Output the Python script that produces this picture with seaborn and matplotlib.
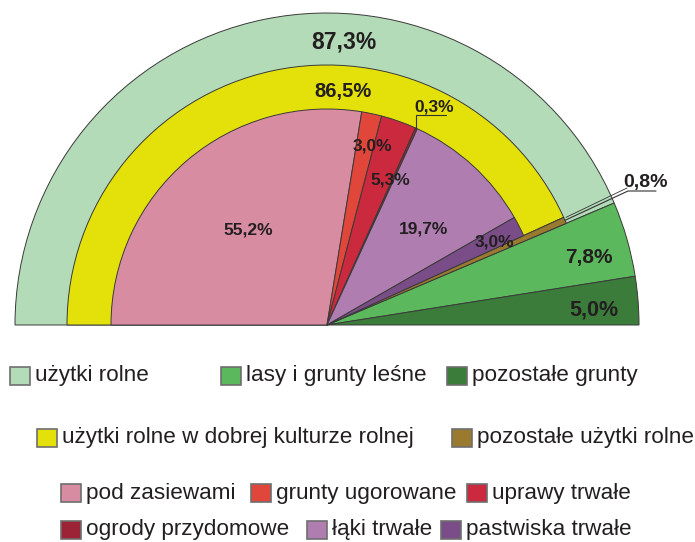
import numpy as np
import matplotlib
matplotlib.use("Agg")
import matplotlib.pyplot as plt
from matplotlib.patches import Rectangle
import seaborn as sns

# dane (% powierzchni)
outer_labels = ["użytki rolne", "lasy i grunty leśne", "pozostałe grunty"]
outer_values = [87.3, 7.8, 5.0]
outer_colors = ["#b3dbb8", "#5cb85c", "#3b7c3b"]

middle_labels = ["użytki rolne w dobrej kulturze rolnej", "pozostałe użytki rolne"]
middle_values = [86.5, 0.8]
middle_colors = ["#e3e00a", "#9a7a2e"]

inner_labels = ["pod zasiewami", "grunty ugorowane", "uprawy trwałe",
                "ogrody przydomowe", "łąki trwałe", "pastwiska trwałe"]
inner_values = [55.2, 3.0, 5.3, 0.3, 19.7, 3.0]
inner_colors = ["#d88ca1", "#e0463a", "#cb2a3e", "#9c2235", "#b07db0", "#7a4d89"]

sns.set_theme(style="white")
plt.rcParams["font.family"] = ["Liberation Sans", "DejaVu Sans"]

W, H = 695, 542
fig = plt.figure(figsize=(W / 100, H / 100), dpi=100)
ax = fig.add_axes([0, 0, 1, 1])

total = sum(outer_values)
cx, cy = 327, H - 325
edge = dict(linewidth=0.7, edgecolor="#3a3a3a")
txt_col = "#231f20"


def half_pie(values, colors, radius):
    vals = list(values) + [2 * total - sum(values)]
    wedges, _ = ax.pie(vals, colors=list(colors) + ["none"], radius=radius,
                       center=(cx, cy), startangle=180, counterclock=False,
                       wedgeprops=edge)
    wedges[-1].set_visible(False)
    return wedges[:-1]


w_out = half_pie(outer_values, outer_colors, 312)
w_mid = half_pie(middle_values, middle_colors, 260)
w_in = half_pie(inner_values, inner_colors, 216)

ax.set_xlim(0, W)
ax.set_ylim(0, H)
ax.set_aspect("equal")
ax.axis("off")


def T(x, y, s, size, weight="bold", ha="center"):
    ax.text(x, H - y, s, fontsize=size, fontweight=weight, color=txt_col,
            ha=ha, va="center")


# etykiety wartości
T(344, 42, "87,3%", 16.5)
T(343, 92, "86,5%", 14.5)
T(589, 257, "7,8%", 15)
T(594, 310, "5,0%", 15.5)
T(248, 230, "55,2%", 12.5)
T(372, 146, "3,0%", 12.5)
T(390, 180, "5,3%", 12.5)
T(424, 229, "19,7%", 12.5)
T(494, 242, "3,0%", 12.5)
T(434, 107, "0,3%", 12.5)
T(645, 183, "0,8%", 14)


def edge_point(w, r):
    ang = np.deg2rad((w.theta1 + w.theta2) / 2)
    return cx + r * np.cos(ang), cy + r * np.sin(ang)


# linie odniesienia
px, py = edge_point(w_in[3], 216)
ax.plot([px, px, 446], [py, H - 115, H - 115], color="#333333", lw=0.8)
px, py = edge_point(w_mid[1], 260)
ax.plot([px, 628, 656], [py, H - 191, H - 191], color="#333333", lw=0.8)
ax.plot([px + 1, 627], [py + 3, H - 188], color="#333333", lw=0.6)

# legenda
legend_rows = [
    (376, [(10, 0), (221, 1), (447, 2)], outer_labels, outer_colors),
    (438, [(37, 0), (452, 1)], middle_labels, middle_colors),
    (493, [(61, 0), (251, 1), (467, 2)], inner_labels, inner_colors),
    (530, [(61, 3), (307, 4), (441, 5)], inner_labels, inner_colors),
]
for y, items, labels, colors in legend_rows:
    for x, i in items:
        ax.add_patch(Rectangle((x, H - y - 9), 20, 18, facecolor=colors[i],
                               edgecolor="#6e6e6e", lw=1.2))
        T(x + 25, y, labels[i], 16.2, weight="normal", ha="left")

plt.savefig("out.png", dpi=100)
